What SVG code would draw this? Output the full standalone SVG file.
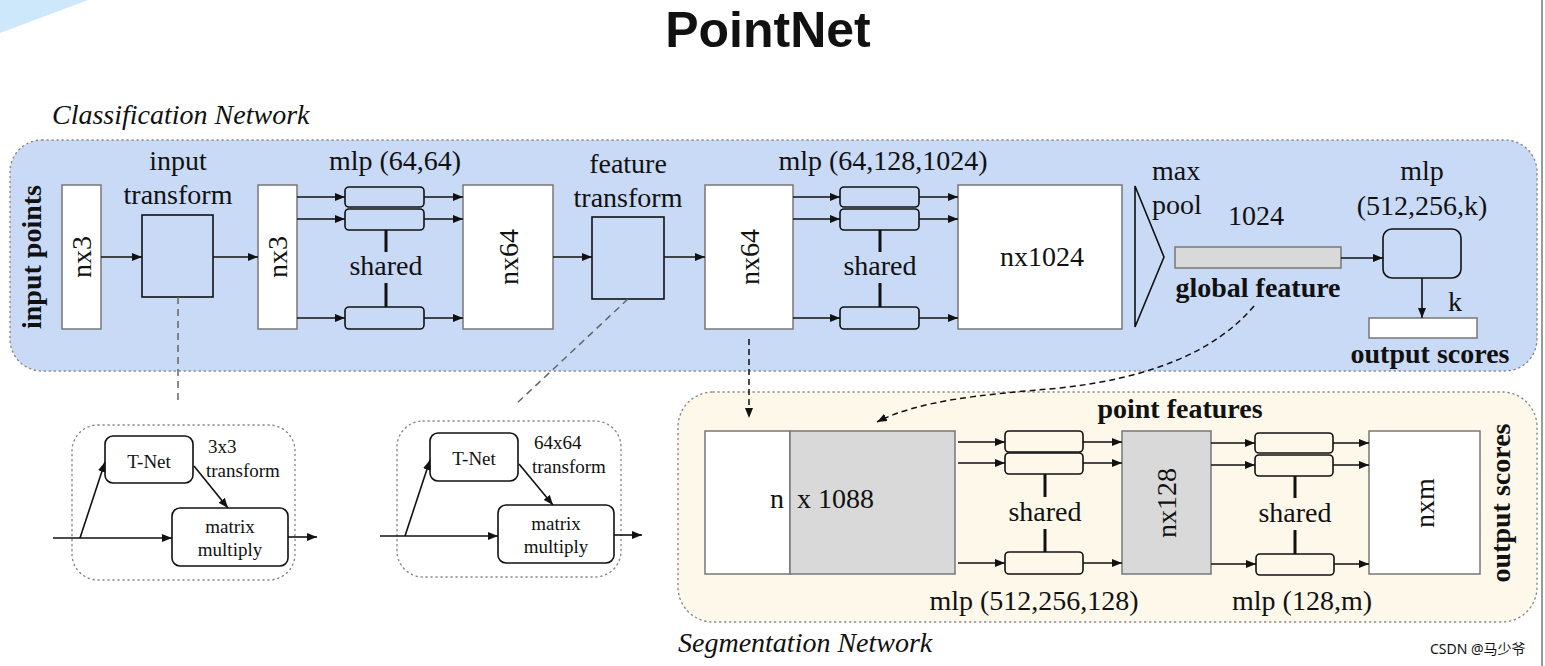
<svg xmlns="http://www.w3.org/2000/svg" width="1545" height="666" viewBox="0 0 1545 666">
<defs>
<style>
text{font-family:"Liberation Serif","Times New Roman",serif;fill:#111}
.t{font-size:28px}
.b{font-size:28px;font-weight:bold}
.i{font-size:28px;font-style:italic}
.s{font-size:19px}
.box{fill:#fff;stroke:#777;stroke-width:1.5}
.gray{fill:#d9d9d9;stroke:#777;stroke-width:1.5}
.bbox{fill:#c9daf7;stroke:#111;stroke-width:1.6}
.cbox{fill:#fdf8ea;stroke:#111;stroke-width:1.6}
.wbox{fill:#fff;stroke:#111;stroke-width:1.6}
.ln{stroke:#111;stroke-width:1.6;fill:none}
.sh{stroke:#111;stroke-width:3;fill:none}
.dash{stroke:#666;stroke-width:1.5;stroke-dasharray:7,5;fill:none}
.dashk{stroke:#111;stroke-width:1.5;stroke-dasharray:6,4;fill:none}
.panel{stroke:#888;stroke-width:1.4;stroke-dasharray:1.2,3.8;stroke-linecap:round}
</style>
<marker id="ah" viewBox="0 0 10 8" refX="10" refY="4" markerWidth="10" markerHeight="8" markerUnits="userSpaceOnUse" orient="auto">
<path d="M0,0 L10,4 L0,8 Z" fill="#111"/>
</marker>
</defs>
<rect width="1545" height="666" fill="#fff"/>
<path d="M0,0 L88,0 L0,33 Z" fill="#cde7fb"/>
<line x1="1542" y1="0" x2="1542" y2="666" stroke="#999" stroke-width="2"/>

<text x="768" y="47" text-anchor="middle" style="font-family:'Liberation Sans',Arial,sans-serif;font-weight:bold;font-size:50px" fill="#000">PointNet</text>

<g id="classification-panel">
<rect x="10" y="140" width="1527" height="231" rx="32" fill="#c9daf7" class="panel"/>
<text class="i" x="52" y="124">Classification Network</text>
</g>
<g id="segmentation-panel">
<rect x="678" y="392" width="859" height="230" rx="35" fill="#fdf8ea" class="panel"/>
<text class="i" x="678" y="652">Segmentation Network</text>
</g>

<g id="input-points">
<text class="b" transform="translate(41,257) rotate(-90)" text-anchor="middle">input points</text>
<rect class="box" x="62" y="185" width="39" height="144"/>
<text class="t" transform="translate(91,257) rotate(-90)" text-anchor="middle">nx3</text>
</g>
<g id="input-transform">
<text class="t" x="178" y="170" text-anchor="middle">input</text>
<text class="t" x="178" y="204" text-anchor="middle">transform</text>
<rect class="bbox" x="142" y="215" width="71" height="82"/>
</g>
<g id="nx3-b">
<rect class="box" x="258" y="185" width="39" height="144"/>
<text class="t" transform="translate(287,257) rotate(-90)" text-anchor="middle">nx3</text>
</g>
<g id="mlp1">
<text class="t" x="395" y="170" text-anchor="middle">mlp (64,64)</text>
<rect class="bbox" x="345" y="187" width="79" height="20" rx="4"/>
<rect class="bbox" x="345" y="209" width="79" height="21" rx="4"/>
<rect class="bbox" x="345" y="307" width="79" height="22" rx="4"/>
<line class="sh" x1="386" y1="230" x2="386" y2="252"/>
<line class="sh" x1="386" y1="283" x2="386" y2="307"/>
<text class="t" x="386" y="275" text-anchor="middle">shared</text>
</g>
<g id="nx64-a">
<rect class="box" x="463" y="185" width="90" height="144"/>
<text class="t" transform="translate(518,257) rotate(-90)" text-anchor="middle">nx64</text>
</g>
<g id="feature-transform">
<text class="t" x="628" y="173" text-anchor="middle">feature</text>
<text class="t" x="628" y="207" text-anchor="middle">transform</text>
<rect class="bbox" x="592" y="217" width="72" height="82"/>
</g>
<g id="nx64-b">
<rect class="box" x="705" y="185" width="88" height="144"/>
<text class="t" transform="translate(759,257) rotate(-90)" text-anchor="middle">nx64</text>
</g>
<g id="mlp2">
<text class="t" x="883" y="170" text-anchor="middle">mlp (64,128,1024)</text>
<rect class="bbox" x="840" y="187" width="79" height="20" rx="4"/>
<rect class="bbox" x="840" y="209" width="79" height="21" rx="4"/>
<rect class="bbox" x="840" y="307" width="79" height="22" rx="4"/>
<line class="sh" x1="880" y1="230" x2="880" y2="252"/>
<line class="sh" x1="880" y1="283" x2="880" y2="307"/>
<text class="t" x="880" y="275" text-anchor="middle">shared</text>
</g>
<g id="nx1024">
<rect class="box" x="958" y="185" width="164" height="144"/>
<text class="t" x="1042" y="266" text-anchor="middle">nx1024</text>
</g>
<g id="maxpool">
<polygon class="ln" points="1135,186 1164,257 1135,327"/>
<text class="t" x="1152" y="180">max</text>
<text class="t" x="1152" y="214">pool</text>
</g>
<g id="global-feature">
<text class="t" x="1256" y="225" text-anchor="middle">1024</text>
<rect class="gray" x="1175" y="247" width="166" height="21"/>
<text class="b" x="1258" y="297" text-anchor="middle">global feature</text>
</g>
<g id="mlp-cls">
<text class="t" x="1422" y="180" text-anchor="middle">mlp</text>
<text class="t" x="1422" y="215" text-anchor="middle">(512,256,k)</text>
<rect class="bbox" x="1383" y="229" width="78" height="49" rx="9"/>
</g>
<g id="output-scores-cls">
<text class="t" x="1448" y="311">k</text>
<rect class="box" x="1369" y="318" width="108" height="20"/>
<text class="b" x="1430" y="363" text-anchor="middle">output scores</text>
</g>

<g id="tnet1">
<rect x="72" y="425" width="223" height="155" rx="26" fill="none" class="panel"/>
<rect class="wbox" x="105" y="436" width="88" height="47" rx="8"/>
<text class="s" x="149" y="468" text-anchor="middle">T-Net</text>
<text class="s" x="208" y="453">3x3</text>
<text class="s" x="206" y="477">transform</text>
<rect class="wbox" x="172" y="508" width="116" height="58" rx="8"/>
<text class="s" x="230" y="533" text-anchor="middle">matrix</text>
<text class="s" x="230" y="556" text-anchor="middle">multiply</text>
</g>
<g id="tnet2">
<rect x="397" y="421" width="224" height="156" rx="26" fill="none" class="panel"/>
<rect class="wbox" x="430" y="433" width="88" height="48" rx="8"/>
<text class="s" x="474" y="465" text-anchor="middle">T-Net</text>
<text class="s" x="534" y="449">64x64</text>
<text class="s" x="532" y="473">transform</text>
<rect class="wbox" x="498" y="505" width="116" height="58" rx="8"/>
<text class="s" x="556" y="530" text-anchor="middle">matrix</text>
<text class="s" x="556" y="553" text-anchor="middle">multiply</text>
</g>

<g id="concat">
<text class="b" x="1180" y="418" text-anchor="middle">point features</text>
<rect class="box" x="705" y="431" width="85" height="143"/>
<rect class="gray" x="790" y="431" width="165" height="143"/>
<text class="t" x="784" y="508" text-anchor="end">n</text>
<text class="t" x="797" y="508">x 1088</text>
</g>
<g id="mlp3">
<rect class="cbox" x="1005" y="431" width="78" height="21" rx="4"/>
<rect class="cbox" x="1005" y="453" width="78" height="21" rx="4"/>
<rect class="cbox" x="1005" y="552" width="78" height="22" rx="4"/>
<line class="sh" x1="1045" y1="474" x2="1045" y2="497"/>
<line class="sh" x1="1045" y1="529" x2="1045" y2="552"/>
<text class="t" x="1045" y="521" text-anchor="middle">shared</text>
<text class="t" x="1034" y="610" text-anchor="middle">mlp (512,256,128)</text>
</g>
<g id="nx128">
<rect class="gray" x="1122" y="431" width="89" height="143"/>
<text class="t" transform="translate(1176,503) rotate(-90)" text-anchor="middle">nx128</text>
</g>
<g id="mlp4">
<rect class="cbox" x="1255" y="433" width="78" height="20" rx="4"/>
<rect class="cbox" x="1255" y="455" width="78" height="21" rx="4"/>
<rect class="cbox" x="1256" y="554" width="78" height="21" rx="4"/>
<line class="sh" x1="1295" y1="476" x2="1295" y2="498"/>
<line class="sh" x1="1295" y1="530" x2="1295" y2="554"/>
<text class="t" x="1295" y="522" text-anchor="middle">shared</text>
<text class="t" x="1302" y="610" text-anchor="middle">mlp (128,m)</text>
</g>
<g id="nxm">
<rect class="box" x="1369" y="431" width="111" height="143"/>
<text class="t" transform="translate(1434,503) rotate(-90)" text-anchor="middle">nxm</text>
<text class="b" transform="translate(1510,503) rotate(-90)" text-anchor="middle">output scores</text>
</g>

<g id="connectors">
<line class="ln" x1="101" y1="257" x2="142" y2="257" marker-end="url(#ah)"/>
<line class="ln" x1="213" y1="257" x2="258" y2="257" marker-end="url(#ah)"/>
<line class="ln" x1="297" y1="197" x2="345" y2="197" marker-end="url(#ah)"/>
<line class="ln" x1="297" y1="219" x2="345" y2="219" marker-end="url(#ah)"/>
<line class="ln" x1="297" y1="318" x2="345" y2="318" marker-end="url(#ah)"/>
<line class="ln" x1="424" y1="197" x2="463" y2="197" marker-end="url(#ah)"/>
<line class="ln" x1="424" y1="219" x2="463" y2="219" marker-end="url(#ah)"/>
<line class="ln" x1="424" y1="318" x2="463" y2="318" marker-end="url(#ah)"/>
<line class="ln" x1="553" y1="257" x2="592" y2="257" marker-end="url(#ah)"/>
<line class="ln" x1="664" y1="257" x2="705" y2="257" marker-end="url(#ah)"/>
<line class="ln" x1="793" y1="197" x2="840" y2="197" marker-end="url(#ah)"/>
<line class="ln" x1="793" y1="219" x2="840" y2="219" marker-end="url(#ah)"/>
<line class="ln" x1="793" y1="318" x2="840" y2="318" marker-end="url(#ah)"/>
<line class="ln" x1="919" y1="197" x2="958" y2="197" marker-end="url(#ah)"/>
<line class="ln" x1="919" y1="219" x2="958" y2="219" marker-end="url(#ah)"/>
<line class="ln" x1="919" y1="318" x2="958" y2="318" marker-end="url(#ah)"/>
<line class="ln" x1="1341" y1="258" x2="1383" y2="258" marker-end="url(#ah)"/>
<line class="ln" x1="1422" y1="278" x2="1422" y2="318" marker-end="url(#ah)"/>

<line class="dash" x1="178" y1="297" x2="178" y2="404"/>
<line class="dash" x1="628" y1="299" x2="515" y2="405"/>
<line class="dashk" x1="749" y1="339" x2="749" y2="418" marker-end="url(#ah)"/>
<path class="dashk" d="M1254,306 C1215,352 1150,378 1060,388 C980,395 920,400 877,422" marker-end="url(#ah)"/>

<line class="ln" x1="53" y1="538" x2="172" y2="538" marker-end="url(#ah)"/>
<line class="ln" x1="80" y1="538" x2="105" y2="462" marker-end="url(#ah)"/>
<line class="ln" x1="194" y1="466" x2="228" y2="508" marker-end="url(#ah)"/>
<line class="ln" x1="288" y1="537" x2="317" y2="537" marker-end="url(#ah)"/>
<line class="ln" x1="380" y1="536" x2="498" y2="536" marker-end="url(#ah)"/>
<line class="ln" x1="405" y1="536" x2="430" y2="460" marker-end="url(#ah)"/>
<line class="ln" x1="519" y1="464" x2="553" y2="505" marker-end="url(#ah)"/>
<line class="ln" x1="614" y1="535" x2="642" y2="535" marker-end="url(#ah)"/>

<line class="ln" x1="958" y1="442" x2="1005" y2="442" marker-end="url(#ah)"/>
<line class="ln" x1="958" y1="463" x2="1005" y2="463" marker-end="url(#ah)"/>
<line class="ln" x1="958" y1="563" x2="1005" y2="563" marker-end="url(#ah)"/>
<line class="ln" x1="1083" y1="442" x2="1122" y2="442" marker-end="url(#ah)"/>
<line class="ln" x1="1083" y1="463" x2="1122" y2="463" marker-end="url(#ah)"/>
<line class="ln" x1="1083" y1="563" x2="1122" y2="563" marker-end="url(#ah)"/>
<line class="ln" x1="1211" y1="443" x2="1255" y2="443" marker-end="url(#ah)"/>
<line class="ln" x1="1211" y1="465" x2="1255" y2="465" marker-end="url(#ah)"/>
<line class="ln" x1="1211" y1="564" x2="1256" y2="564" marker-end="url(#ah)"/>
<line class="ln" x1="1333" y1="443" x2="1369" y2="443" marker-end="url(#ah)"/>
<line class="ln" x1="1333" y1="465" x2="1369" y2="465" marker-end="url(#ah)"/>
<line class="ln" x1="1334" y1="564" x2="1369" y2="564" marker-end="url(#ah)"/>
</g>

<text x="1430" y="654" style="font-family:'Noto Sans','Noto Sans CJK SC',sans-serif;font-size:14px" fill="#999">CSDN @马少爷</text>
</svg>
